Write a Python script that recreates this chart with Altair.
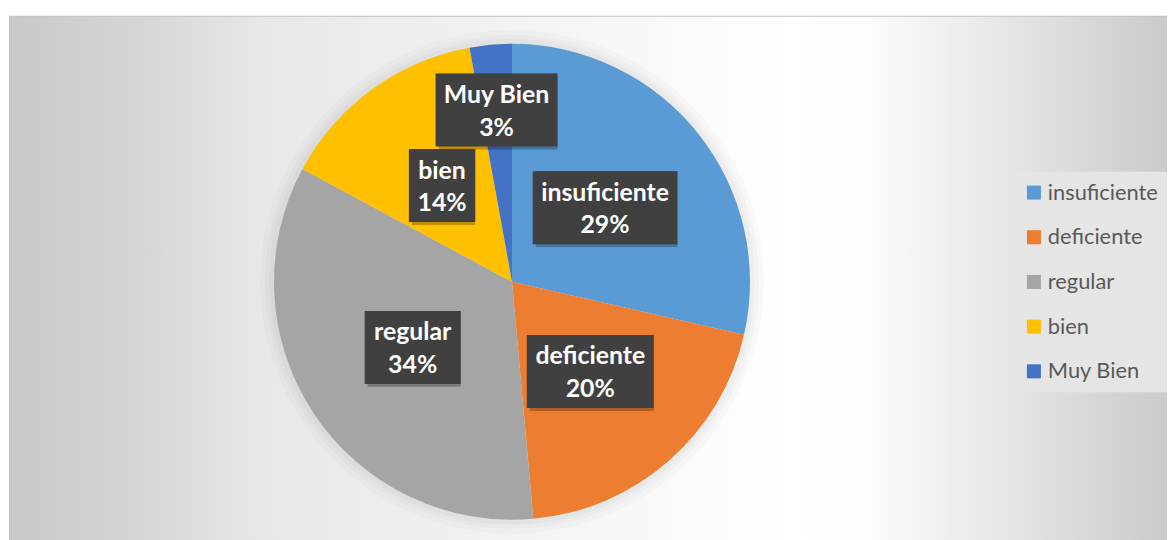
import math
import altair as alt
import pandas as pd

# ---- data ----
categories = ["insuficiente", "deficiente", "regular", "bien", "Muy Bien"]
counts = [10, 7, 12, 5, 1]          # -> 29%, 20%, 34%, 14%, 3%
colors = ["#5B9BD5", "#ED7D31", "#A5A5A5", "#FFC000", "#4472C4"]

# ---- layout (px, chart coordinates) ----
W, H = 1167, 532
S = 1159 / W            # page shrinks the svg to the 1159px available
CX, CY, R = 504 / S, 272 / S, 238 / S

# approximate glyph widths (em) of a bold humanist font, used to size label boxes
_GW = {"M": .874, "u": .537, "y": .474, " ": .226, "B": .561, "i": .246, "e": .503,
       "n": .537, "s": .399, "f": .316, "c": .418, "t": .347, "d": .537, "r": .355,
       "g": .474, "l": .246, "a": .494, "b": .537, "%": .729}


def text_w(s, size=26):
    return sum(_GW.get(ch, .507) for ch in s) * size


total = sum(counts)
rows = []
cum = 0.0
for i, (c, n) in enumerate(zip(categories, counts)):
    frac = n / total
    mid = (cum + frac / 2) * 2 * math.pi
    cum += frac
    rr = 0.5 if frac >= 0.05 else 0.725
    lx, ly = rr * math.sin(mid), rr * math.cos(mid)
    pct = f"{round(frac * 100)}%"
    hw = (max(text_w(c), text_w(pct)) + 19) / S / 2 / R
    hh = 36.5 / S / R
    rows.append(dict(cat=c, n=n, idx=i, lx=lx, ly=ly, pct=pct,
                     bx1=lx - hw, bx2=lx + hw, by1=ly - hh, by2=ly + hh))
df = pd.DataFrame(rows)

xs = alt.Scale(domain=[-1, 1], range=[CX - R, CX + R], nice=False, zero=False)
ys = alt.Scale(domain=[-1, 1], range=[CY + R, CY - R], nice=False, zero=False)
cx = alt.XDatum(0, type="quantitative", scale=xs, axis=None)
cy = alt.YDatum(0, type="quantitative", scale=ys, axis=None)

grad = alt.LinearGradient(
    gradient="linear", x1=0, x2=1, y1=0, y2=0,
    stops=[
        alt.GradientStop(color="#c8c8c8", offset=0),
        alt.GradientStop(color="#d7d7d7", offset=0.12),
        alt.GradientStop(color="#e8e8e8", offset=0.22),
        alt.GradientStop(color="#f2f2f2", offset=0.42),
        alt.GradientStop(color="#fbfbfb", offset=0.59),
        alt.GradientStop(color="#ffffff", offset=0.67),
        alt.GradientStop(color="#fdfdfd", offset=0.73),
        alt.GradientStop(color="#e6e6e6", offset=0.85),
        alt.GradientStop(color="#c8c8c8", offset=1),
    ],
)

bg = alt.Chart(pd.DataFrame({"a": [0]})).mark_rect(
    fill=grad, stroke="#bfbfbf", strokeWidth=1
).encode(x=alt.value(1.5), x2=alt.value(1180), y=alt.value(6.5), y2=alt.value(545))

base = alt.Chart(df)

halos = [
    base.mark_arc(outerRadius=R + k, color="black", opacity=op).encode(
        x=cx, y=cy, theta=alt.Theta("n:Q", stack=True), order=alt.Order("idx:Q"))
    for k, op in [(14, 0.018), (9, 0.02), (5, 0.025)]
]

pie = base.mark_arc(outerRadius=R).encode(
    x=cx, y=cy,
    theta=alt.Theta("n:Q", stack=True),
    order=alt.Order("idx:Q"),
    color=alt.Color(
        "cat:N",
        scale=alt.Scale(domain=categories, range=colors),
        legend=alt.Legend(
            orient="none", legendX=1012, legendY=163, title=None,
            fillColor="#e5e5e5", padding=10,
            symbolType="square", symbolSize=200, symbolStrokeWidth=0,
            labelFont="Lato", labelFontSize=22, labelColor="#595959",
            labelOffset=3, rowPadding=23, labelLimit=300,
        ),
    ),
)

bx = alt.X("bx1:Q", scale=xs, axis=None)
by = alt.Y("by1:Q", scale=ys, axis=None)
shadow = base.mark_rect(color="black", opacity=0.25, xOffset=3, yOffset=3).encode(
    x=bx, x2="bx2:Q", y=by, y2="by2:Q")
box = base.mark_rect(color="#404040").encode(x=bx, x2="bx2:Q", y=by, y2="by2:Q")

lx = alt.X("lx:Q", scale=xs, axis=None)
ly = alt.Y("ly:Q", scale=ys, axis=None)
tstyle = dict(font="Lato", fontWeight="bold", fontSize=25, color="white",
              baseline="alphabetic", align="center")
t1 = base.mark_text(dy=-7, **tstyle).encode(x=lx, y=ly, text="cat:N")
t2 = base.mark_text(dy=26, **tstyle).encode(x=lx, y=ly, text="pct:N")

chart = alt.layer(bg, *halos, pie, shadow, box, t1, t2).properties(
    width=W, height=H, autosize=alt.AutoSizeParams(type="none"), padding=0,
    background="white",
).configure_view(stroke=None)

chart.save("out.html", embed_options={"renderer": "svg", "actions": False})
